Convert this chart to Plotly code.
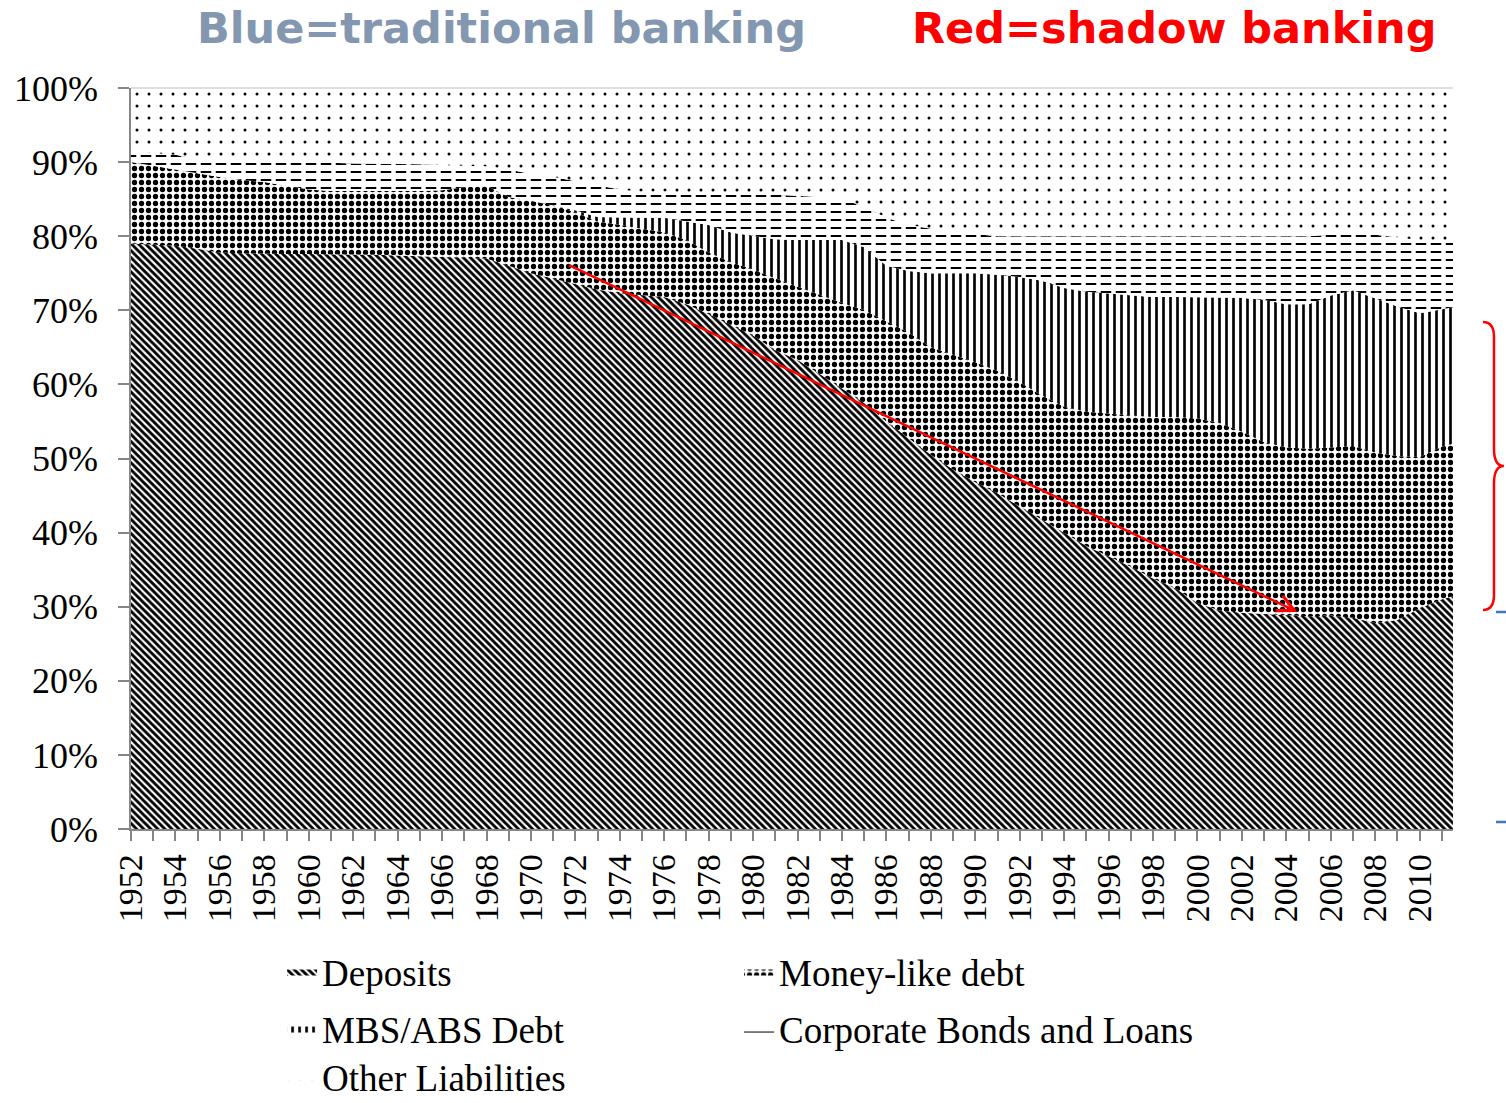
import numpy as np
import plotly.graph_objects as go

# Liability shares (% of total), one value per year; the final entry is the mid-2011 observation
periods = list(range(1952, 2012)) + [2011.5]

deposits = [
    79.0, 78.8, 78.7, 78.3, 77.8, 77.7, 77.6, 77.6, 77.6, 77.6,
    77.6, 77.5, 77.4, 77.3, 77.2, 77.2, 77.0, 76.0, 75.0, 74.3,
    73.5, 72.8, 72.3, 72.0, 71.8, 70.8, 69.5, 68.0, 66.6, 64.6,
    63.3, 61.4, 59.5, 57.5, 55.0, 52.8, 50.5, 48.5, 46.8, 45.3,
    43.5, 41.8, 40.0, 38.2, 36.8, 35.4, 33.8, 32.5, 30.5, 29.5,
    29.2, 29.0, 28.8, 28.7, 28.8, 28.5, 27.8, 28.2, 29.8, 31.0, 31.4,
]
money_like = [
    11.0, 10.7, 10.3, 10.1, 10.2, 9.9, 9.7, 9.2, 8.7, 8.5,
    8.5, 8.5, 8.6, 8.8, 9.0, 9.4, 9.8, 9.3, 9.8, 9.9,
    9.7, 9.2, 9.2, 9.0, 8.7, 8.7, 8.3, 8.5, 8.9, 9.7,
    9.9, 10.6, 11.5, 12.5, 13.5, 14.2, 14.5, 15.5, 16.2, 16.5,
    16.8, 16.7, 17.0, 18.1, 19.2, 20.4, 21.8, 23.1, 24.9, 25.3,
    24.4, 23.2, 22.7, 22.6, 22.7, 23.2, 23.0, 22.1, 20.4, 20.6, 20.6,
]
mbs_abs = [
    0, 0, 0, 0, 0, 0, 0, 0, 0, 0,
    0, 0, 0, 0, 0, 0, 0, 0, 0, 0,
    0.3, 0.6, 1.0, 1.5, 2.0, 2.5, 3.7, 4.0, 4.5, 5.3,
    6.3, 7.5, 8.5, 8.5, 7.5, 8.3, 10.0, 11.0, 12.0, 13.0,
    14.2, 15.5, 16.0, 16.2, 16.3, 16.2, 16.2, 16.2, 16.4, 17.0,
    18.1, 19.2, 19.3, 19.5, 20.5, 21.0, 20.8, 20.2, 19.4, 18.6, 18.4,
]
corporate = [
    1.5, 1.7, 2.0, 2.0, 2.2, 2.5, 2.7, 3.2, 3.6, 3.8,
    3.7, 3.8, 3.8, 3.6, 3.4, 2.9, 2.6, 3.7, 3.6, 3.8,
    3.9, 4.2, 3.8, 3.5, 3.5, 3.8, 4.3, 5.2, 5.7, 6.0,
    6.0, 5.8, 5.5, 5.5, 6.5, 6.2, 6.0, 5.5, 5.3, 5.2,
    5.5, 6.0, 7.0, 7.5, 7.7, 8.0, 8.2, 8.2, 8.2, 8.2,
    8.3, 8.6, 9.2, 9.2, 8.2, 7.8, 8.6, 9.3, 9.9, 9.3, 9.1,
]
other = [
    8.5, 8.8, 9.0, 9.6, 9.8, 9.9, 10.0, 10.0, 10.1, 10.1,
    10.2, 10.2, 10.2, 10.3, 10.4, 10.5, 10.6, 11.0, 11.6, 12.0,
    12.6, 13.2, 13.7, 14.0, 14.0, 14.2, 14.2, 14.3, 14.3, 14.4,
    14.5, 14.7, 15.0, 16.0, 17.5, 18.5, 19.0, 19.5, 19.7, 20.0,
    20.0, 20.0, 20.0, 20.0, 20.0, 20.0, 20.0, 20.0, 20.0, 20.0,
    20.0, 20.0, 20.0, 20.0, 19.8, 19.5, 19.8, 20.2, 20.5, 20.5, 20.5,
]

tick_years = list(range(1952, 2012))
tick_labels = [
    "1952", "", "1954", "", "1956", "", "1958", "", "1960", "",
    "1962", "", "1964", "", "1966", "", "1968", "", "1970", "",
    "1972", "", "1974", "", "1976", "", "1978", "", "1980", "",
    "1982", "", "1984", "", "1986", "", "1988", "", "1990", "",
    "1992", "", "1994", "", "1996", "", "1998", "", "2000", "",
    "2002", "", "2004", "", "2006", "", "2008", "", "2010", "",
]

SERIF = "Liberation Serif, Times New Roman, serif"
AXIS_GREY = "#868686"

# name, values, fill pattern, legend row
series = [
    ("Deposits", deposits, dict(shape="\\", size=5, solidity=0.58), "legend"),
    ("Money-like debt", money_like, dict(shape=".", size=7, solidity=0.45), "legend"),
    ("MBS/ABS Debt", mbs_abs, dict(shape="|", size=7, solidity=0.38), "legend2"),
    ("Corporate Bonds and Loans", corporate, dict(shape="-", size=8, solidity=0.25), "legend2"),
    ("Other Liabilities", other, dict(shape=".", size=12, solidity=0.05), "legend3"),
]

fig = go.Figure()
for name, vals, pat, leg in series:
    fig.add_trace(go.Scatter(
        x=periods, y=vals, name=name, mode="lines",
        line=dict(width=0), stackgroup="liab",
        fillcolor="white",
        fillpattern=dict(fgcolor="black", bgcolor="white", fillmode="replace", **pat),
        legend=leg, hoverinfo="x+y+name",
    ))

# Break the corporate-bond rules into dashes with a white vertical overlay
corp_bottom = np.array(deposits) + np.array(money_like) + np.array(mbs_abs)
corp_top = corp_bottom + np.array(corporate)
fig.add_trace(go.Scatter(x=periods, y=corp_bottom, mode="lines", line=dict(width=0),
                         showlegend=False, hoverinfo="skip"))
fig.add_trace(go.Scatter(x=periods, y=corp_top, mode="lines", line=dict(width=0),
                         fill="tonexty", fillcolor="rgba(0,0,0,0)",
                         fillpattern=dict(shape="|", size=15, solidity=0.3, fgcolor="white",
                                          bgcolor="rgba(0,0,0,0)", fillmode="replace"),
                         showlegend=False, hoverinfo="skip"))

legend_font = dict(family=SERIF, size=37, color="black")


def legend_row(y_center):
    return dict(
        orientation="h", traceorder="normal",
        xref="container", yref="container",
        x=0.1873, xanchor="left", y=y_center, yanchor="middle",
        entrywidth=412, entrywidthmode="pixels",
        font=legend_font, itemwidth=30, bgcolor="rgba(0,0,0,0)",
    )


fig.update_layout(
    width=1506, height=1103,
    margin=dict(l=131, r=53, t=88, b=274),
    plot_bgcolor="white", paper_bgcolor="white",
    font=dict(family=SERIF, size=34, color="black"),
    showlegend=True,
    legend=legend_row(0.1188),
    legend2=legend_row(0.0671),
    legend3=legend_row(0.0235),
    xaxis=dict(
        range=[1952, 2011.5], tickmode="array", tickvals=tick_years, ticktext=tick_labels,
        tickangle=-90, ticks="outside", ticklen=10, tickwidth=1.5, tickcolor=AXIS_GREY,
        showline=True, linecolor=AXIS_GREY, linewidth=1.5, showgrid=False, zeroline=False,
        tickfont=dict(family=SERIF, size=34), automargin=False, fixedrange=True,
    ),
    yaxis=dict(
        range=[0, 100], tickmode="linear", tick0=0, dtick=10, ticksuffix="%",
        ticks="outside", ticklen=11, tickwidth=1.5, tickcolor=AXIS_GREY,
        showline=True, linecolor=AXIS_GREY, linewidth=1.5, showgrid=False, zeroline=False,
        tickfont=dict(family=SERIF, size=36), ticklabelstandoff=13, automargin=False,
        fixedrange=True,
    ),
)

# Thin border along the 100% line
fig.add_shape(type="line", xref="paper", yref="paper", x0=0, x1=1, y0=1, y1=1,
              line=dict(color="#BFBFBF", width=1))

# Headline labels above the plot
fig.add_annotation(text="<b>Blue=traditional banking</b>", xref="paper", yref="paper",
                   x=0.2806, y=1.081, xanchor="center", yanchor="middle", showarrow=False,
                   font=dict(family="DejaVu Sans, Verdana, sans-serif", size=43, color="#8497B0"))
fig.add_annotation(text="<b>Red=shadow banking</b>", xref="paper", yref="paper",
                   x=0.7893, y=1.081, xanchor="center", yanchor="middle", showarrow=False,
                   font=dict(family="DejaVu Sans, Verdana, sans-serif", size=43, color="#FF0000"))

# Downward trend arrow across the deposit share
fig.add_annotation(x=2004.5, y=29.3, ax=1971.65, ay=76.2, xref="x", yref="y",
                   axref="x", ayref="y", text="", showarrow=True, arrowhead=5,
                   arrowsize=1.3, arrowwidth=2.5, arrowcolor="#FF0000", standoff=0)

# Brace marking the shadow-banking block at the right edge
fig.add_shape(type="path", xref="paper", yref="paper",
              path=("M 1.0227,0.6842 Q 1.0310,0.6842 1.0310,0.6640 "
                    "L 1.0310,0.5140 Q 1.0310,0.4899 1.0385,0.4899 "
                    "Q 1.0310,0.4899 1.0310,0.4660 L 1.0310,0.3160 "
                    "Q 1.0310,0.2955 1.0227,0.2955"),
              line=dict(color="#FF0000", width=2.5))

# Short blue markers at the far right
for yp in (0.2928, 0.0094):
    fig.add_shape(type="line", xref="paper", yref="paper", x0=1.0325, x1=1.06, y0=yp, y1=yp,
                  line=dict(color="#4472C4", width=2.5))

fig.write_html("out.html")
